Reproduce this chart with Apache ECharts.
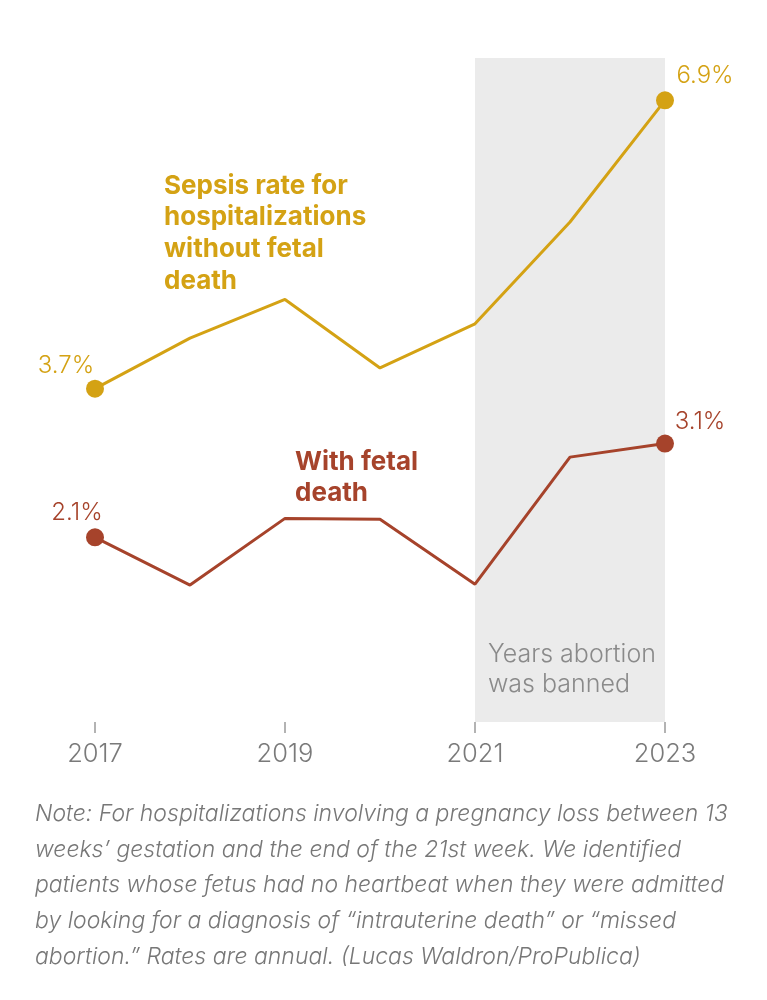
<!DOCTYPE html>
<html>
<head>
<meta charset="utf-8">
<script src="https://cdn.jsdelivr.net/npm/echarts@6/dist/echarts.min.js"></script>
<style>
  html, body { margin: 0; padding: 0; background: #ffffff; }
  #chart { width: 767px; height: 1000px; }
</style>
</head>
<body>
<div id="chart"></div>
<script>
// ---- data ----
const years = ['2017', '2018', '2019', '2020', '2021', '2022', '2023'];
const withoutFetalDeath = [3.7, 4.26, 4.69, 3.93, 4.42, 5.55, 6.9];
const withFetalDeath = [2.05, 1.52, 2.26, 2.25, 1.53, 2.94, 3.09];
const withoutLabels = ['3.7%', '', '', '', '', '', '6.9%'];
const withLabels = ['2.1%', '', '', '', '', '', '3.1%'];
const banStart = '2021';
const banEnd = '2023';
const seriesNames = ['Sepsis rate for\nhospitalizations\nwithout fetal\ndeath', 'With fetal\ndeath'];
const bandText = 'Years abortion\nwas banned';
const noteText = 'Note: For hospitalizations involving a pregnancy loss between 13\nweeks\u2019 gestation and the end of the 21st week. We identified\npatients whose fetus had no heartbeat when they were admitted\nby looking for a diagnosis of \u201cintrauterine death\u201d or \u201cmissed\nabortion.\u201d Rates are annual. (Lucas Waldron/ProPublica)';

const GOLD = '#D4A214';
const RED = '#A6432B';
const FONT = 'Inter, Roboto, "Noto Sans", sans-serif';

function buildData(values, labels, color, offsets) {
  return values.map((v, i) => {
    const endpoint = labels[i] !== '';
    const item = { value: v, symbolSize: 0 };
    if (endpoint) {
      item.symbolSize = 18;
      item.label = {
        show: true, formatter: labels[i], position: 'top',
        offset: offsets[i === 0 ? 0 : 1],
        color: color, fontSize: 24, fontWeight: 300, fontFamily: FONT
      };
    }
    return item;
  });
}

const chart = echarts.init(document.getElementById('chart'), null, { renderer: 'canvas' });
chart.setOption({
  backgroundColor: '#ffffff',
  animation: false,
  grid: { left: 95, right: 102, top: 58, height: 664 },
  xAxis: {
    type: 'category', data: years, boundaryGap: false,
    axisLine: { show: false },
    axisTick: { show: true, interval: 1, length: 11, lineStyle: { color: '#9a9a9a', width: 1.5 } },
    axisLabel: { interval: 1, margin: 19, color: '#7a7a7a', fontSize: 25.5, fontWeight: 300, fontFamily: FONT },
    splitLine: { show: false }
  },
  yAxis: {
    type: 'value', min: 0, max: 7.37, show: false, splitLine: { show: false }
  },
  series: [
    {
      type: 'line', name: 'without', symbol: 'circle',
      data: buildData(withoutFetalDeath, withoutLabels, GOLD, [[-29, 3], [40, 1]]),
      lineStyle: { color: GOLD, width: 3 }, itemStyle: { color: GOLD },
      markArea: {
        silent: true,
        itemStyle: { color: '#EBEBEB' },
        data: [[{ xAxis: banStart }, { xAxis: banEnd }]]
      },
      z: 3
    },
    {
      type: 'line', name: 'with', symbol: 'circle',
      data: buildData(withFetalDeath, withLabels, RED, [[-18, 1], [35, 4]]),
      lineStyle: { color: RED, width: 3 }, itemStyle: { color: RED },
      z: 3
    }
  ],
  graphic: [
    {
      type: 'text', left: 164, top: 170, z: 10,
      style: { text: seriesNames[0], fill: GOLD, font: 'bold 26px ' + FONT, lineHeight: 31.7 }
    },
    {
      type: 'text', left: 295, top: 447, z: 10,
      style: { text: seriesNames[1], fill: RED, font: 'bold 26px ' + FONT, lineHeight: 31 }
    },
    {
      type: 'text', left: 488, top: 639, z: 10,
      style: { text: bandText, fill: '#8a8a8a', font: '300 25px ' + FONT, lineHeight: 30 }
    },
    {
      type: 'text', left: 35, top: 796, z: 10,
      style: { text: noteText, fill: '#777777', font: 'italic 300 23px ' + FONT, lineHeight: 35.8 }
    }
  ]
});
</script>
</body>
</html>
